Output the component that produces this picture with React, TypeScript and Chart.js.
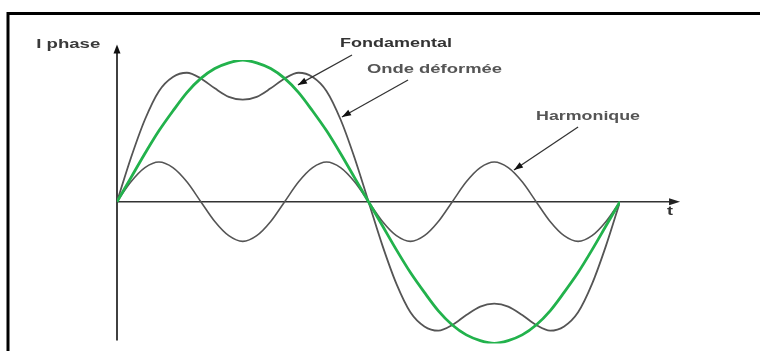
import { useEffect, useRef } from "react";
import { Chart, registerables } from "chart.js";

Chart.register(...registerables);

// Phase angle (degrees) over one period
const tDeg = [
  0, 10, 20, 30, 40, 50, 60, 70, 80, 90, 100, 110, 120, 130, 140, 150, 160, 170, 180,
  190, 200, 210, 220, 230, 240, 250, 260, 270, 280, 290, 300, 310, 320, 330, 340, 350, 360,
];

// Fondamental (green)
const fondamental = [
  0, 0.17, 0.34, 0.5, 0.64, 0.77, 0.87, 0.94, 0.98, 1, 0.98, 0.94, 0.87, 0.77, 0.64, 0.5, 0.34, 0.17, 0,
  -0.17, -0.34, -0.5, -0.64, -0.77, -0.87, -0.94, -0.98, -1, -0.98, -0.94, -0.87, -0.77, -0.64, -0.5, -0.34, -0.17, 0,
];

// Harmonique (3rd)
const harmonique = [
  0, 0.14, 0.24, 0.28, 0.24, 0.14, 0, -0.14, -0.24, -0.28, -0.24, -0.14, 0, 0.14, 0.24, 0.28, 0.24, 0.14, 0,
  -0.14, -0.24, -0.28, -0.24, -0.14, 0, 0.14, 0.24, 0.28, 0.24, 0.14, 0, -0.14, -0.24, -0.28, -0.24, -0.14, 0,
];

// Onde déformée
const ondeDeformee = [
  0, 0.31, 0.58, 0.78, 0.88, 0.91, 0.87, 0.8, 0.74, 0.72, 0.74, 0.8, 0.87, 0.91, 0.88, 0.78, 0.58, 0.31, 0,
  -0.31, -0.58, -0.78, -0.88, -0.91, -0.87, -0.8, -0.74, -0.72, -0.74, -0.8, -0.87, -0.91, -0.88, -0.78, -0.58, -0.31, 0,
];

// Axis extents (data units)
const yAxisRange = [-0.98, 1.11];
const xAxisRange = [0, 403];

// Text labels
const labelTexts = ["I phase", "Fondamental", "Onde déformée", "Harmonique", "t"];
const labelX = [-12, 159.6, 178.9, 299.9, 395.8];
const labelY = [1.106, 1.113, 0.929, 0.598, -0.073];
const labelAlign = ["right", "left", "left", "left", "center"];
const labelWidth = [64, 112, 135, 104, 6];
const labelColor = ["#3a3a3a", "#333", "#555", "#555", "#333"];

// Callout arrows: from (x1,y1) to tip (x2,y2)
const arrowX1 = [168.2, 208.3, 330];
const arrowY1 = [1.035, 0.859, 0.527];
const arrowX2 = [129.5, 161.0, 284.1];
const arrowY2 = [0.824, 0.598, 0.224];

function arrowHead(ctx: CanvasRenderingContext2D, x1: number, y1: number, x2: number, y2: number, len: number, w: number) {
  const ang = Math.atan2(y2 - y1, x2 - x1);
  ctx.beginPath();
  ctx.moveTo(x2, y2);
  ctx.lineTo(x2 - len * Math.cos(ang) + w * Math.sin(ang), y2 - len * Math.sin(ang) - w * Math.cos(ang));
  ctx.lineTo(x2 - len * Math.cos(ang) - w * Math.sin(ang), y2 - len * Math.sin(ang) + w * Math.cos(ang));
  ctx.closePath();
  ctx.fill();
}

const decorPlugin = {
  id: "decor",
  beforeDatasetsDraw(chart: any) {
    const ctx: CanvasRenderingContext2D = chart.ctx;
    const xs = chart.scales.x;
    const ys = chart.scales.y;
    ctx.save();
    // frame
    ctx.strokeStyle = "#000";
    ctx.lineWidth = 3;
    ctx.beginPath();
    ctx.moveTo(8, 351);
    ctx.lineTo(8, 13.5);
    ctx.lineTo(760, 13.5);
    ctx.stroke();
    // y axis
    const x0 = xs.getPixelForValue(0);
    const yb = ys.getPixelForValue(yAxisRange[0]);
    const yt = ys.getPixelForValue(yAxisRange[1]);
    ctx.strokeStyle = "#111";
    ctx.fillStyle = "#111";
    ctx.lineWidth = 1.6;
    ctx.beginPath();
    ctx.moveTo(x0, yb);
    ctx.lineTo(x0, yt + 4);
    ctx.stroke();
    arrowHead(ctx, x0, yb, x0, yt, 9, 3.5);
    // x axis
    const y0 = ys.getPixelForValue(0);
    const xl = xs.getPixelForValue(xAxisRange[0]);
    const xr = xs.getPixelForValue(xAxisRange[1]);
    ctx.strokeStyle = "#333";
    ctx.fillStyle = "#222";
    ctx.lineWidth = 1.4;
    ctx.beginPath();
    ctx.moveTo(xl, y0);
    ctx.lineTo(xr - 4, y0);
    ctx.stroke();
    arrowHead(ctx, xl, y0, xr, y0, 11, 3.5);
    ctx.restore();
  },
  afterDraw(chart: any) {
    const ctx: CanvasRenderingContext2D = chart.ctx;
    const xs = chart.scales.x;
    const ys = chart.scales.y;
    ctx.save();
    ctx.font = "bold 12px 'Liberation Sans', Arial, sans-serif";
    ctx.textBaseline = "middle";
    labelTexts.forEach((txt, i) => {
      const px = xs.getPixelForValue(labelX[i]);
      const py = ys.getPixelForValue(labelY[i]);
      const m = ctx.measureText(txt).width;
      const sx = labelWidth[i] / m;
      ctx.save();
      ctx.fillStyle = labelColor[i];
      ctx.translate(px, py);
      ctx.scale(sx, 1);
      ctx.textAlign = labelAlign[i] as CanvasTextAlign;
      ctx.fillText(txt, 0, 0);
      ctx.restore();
    });
    ctx.strokeStyle = "#333";
    ctx.fillStyle = "#111";
    ctx.lineWidth = 1.3;
    arrowX1.forEach((_, i) => {
      const x1 = xs.getPixelForValue(arrowX1[i]);
      const y1 = ys.getPixelForValue(arrowY1[i]);
      const x2 = xs.getPixelForValue(arrowX2[i]);
      const y2 = ys.getPixelForValue(arrowY2[i]);
      ctx.beginPath();
      ctx.moveTo(x1, y1);
      ctx.lineTo(x2, y2);
      ctx.stroke();
      arrowHead(ctx, x1, y1, x2, y2, 9, 3.2);
    });
    ctx.restore();
  },
};

export default function App() {
  const ref = useRef<HTMLCanvasElement>(null);
  useEffect(() => {
    document.body.style.margin = "0";
    document.body.style.background = "#fff";
    const pts = (arr: number[]) => tDeg.map((t, i) => ({ x: t, y: arr[i] }));
    const chart = new Chart(ref.current!, {
      type: "line",
      data: {
        datasets: [
          {
            label: "Fondamental",
            data: pts(fondamental),
            borderColor: "#22b24c",
            borderWidth: 2.8,
            pointRadius: 0,
            cubicInterpolationMode: "monotone",
          },
          {
            label: "Onde déformée",
            data: pts(ondeDeformee),
            borderColor: "#555",
            borderWidth: 1.8,
            pointRadius: 0,
            cubicInterpolationMode: "monotone",
          },
          {
            label: "Harmonique",
            data: pts(harmonique),
            borderColor: "#555",
            borderWidth: 1.6,
            pointRadius: 0,
            cubicInterpolationMode: "monotone",
          },
        ],
      },
      options: {
        animation: false,
        responsive: false,
        events: [],
        layout: { padding: { left: 117, right: 140, top: 60, bottom: 7.6 } },
        scales: {
          x: { type: "linear", min: 0, max: 360, display: false },
          y: { type: "linear", min: -1, max: 1, display: false },
        },
        plugins: { legend: { display: false }, tooltip: { enabled: false } },
      },
      plugins: [decorPlugin],
    });
    return () => chart.destroy();
  }, []);
  return <canvas ref={ref} width={760} height={351} style={{ display: "block" }} />;
}
